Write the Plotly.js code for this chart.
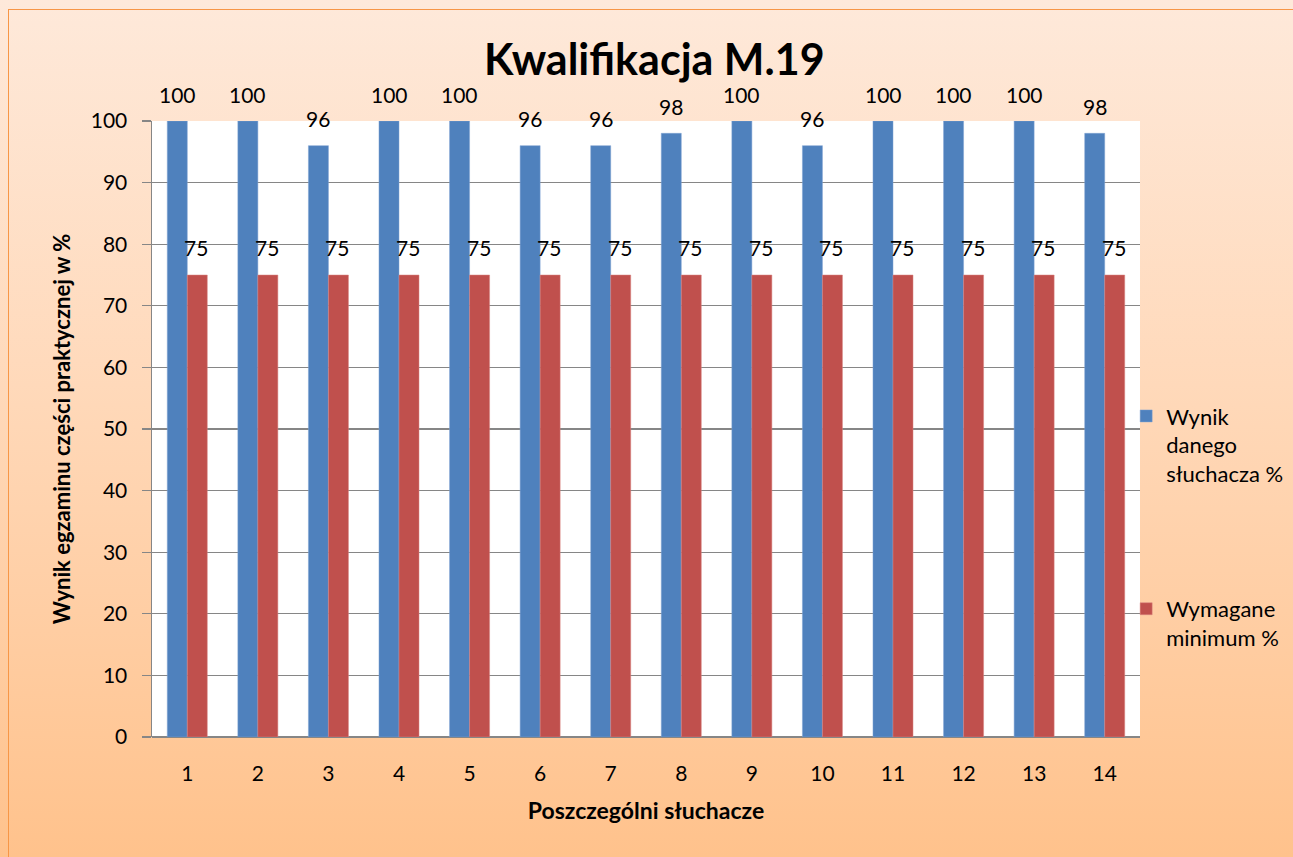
<!DOCTYPE html>
<html>
<head>
<meta charset="utf-8">
<script src="https://cdn.plot.ly/plotly-3.0.1.min.js"></script>
<style>
  html, body { margin: 0; padding: 0; }
  #wrap { position: relative; width: 1293px; height: 857px; overflow: hidden;
          background: linear-gradient(to bottom, #FEE9DA 0%, #FFD9BA 45%, #FFC28C 100%); }
  #frame { position: absolute; left: 8px; top: 9px; width: 1300px; height: 860px;
           border-left: 1px solid #F79646; border-top: 1px solid #F79646; }
  #chart { position: absolute; left: 0; top: 0; width: 1293px; height: 857px; }
</style>
</head>
<body>
<div id="wrap"><div id="frame"></div><div id="chart"></div></div>
<script>
const categories = [1,2,3,4,5,6,7,8,9,10,11,12,13,14];
const wynik = [100,100,96,100,100,96,96,98,100,96,100,100,100,98];
const minimum = [75,75,75,75,75,75,75,75,75,75,75,75,75,75];
const seriesNames = ["Wynik<br>danego<br>słuchacza %", "Wymagane<br>minimum %"];
const yTicks = [0,10,20,30,40,50,60,70,80,90,100];

const FONT = "Lato, 'Open Sans', sans-serif";

const traces = [
  { type: 'bar', x: categories, y: wynik, name: seriesNames[0],
    marker: { color: '#4F81BD', line: { color: '#7FA3D3', width: 0.5 } },
    legendgroup: 'a', hoverinfo: 'y' },
  { type: 'bar', x: categories, y: minimum, name: seriesNames[1],
    marker: { color: '#C0504D', line: { color: '#D88583', width: 0.5 } },
    legendgroup: 'b', hoverinfo: 'y' }
];

const annotations = [];
categories.forEach((c, i) => {
  annotations.push({ x: c, y: wynik[i], xref: 'x', yref: 'y', text: String(wynik[i]),
    showarrow: false, xshift: -10, yshift: 27, yanchor: 'middle',
    font: { family: FONT, size: 21, color: '#000' } });
  annotations.push({ x: c, y: minimum[i], xref: 'x', yref: 'y', text: String(minimum[i]),
    showarrow: false, xshift: 9, yshift: 28, yanchor: 'middle',
    font: { family: FONT, size: 21, color: '#000' } });
});

const layout = {
  width: 1293, height: 857,
  paper_bgcolor: 'rgba(0,0,0,0)',
  plot_bgcolor: '#FFFFFF',
  margin: { l: 152, r: 153, t: 121, b: 120, pad: 0, autoexpand: false },
  title: { text: '<b>Kwalifikacja M.19</b>', x: 0.506, xanchor: 'center', y: 0.93, yanchor: 'middle',
           font: { family: FONT, size: 43, color: '#000' } },
  barmode: 'group',
  bargap: 0.433,
  bargroupgap: 0,
  xaxis: {
    type: 'linear',
    range: [0.5, 14.5],
    tickvals: categories,
    ticktext: categories.map(String),
    showgrid: false, zeroline: false,
    showline: false,
    ticks: '', ticklen: 0,
    ticklabelstandoff: 22,
    tickfont: { family: FONT, size: 21, color: '#000' },
    title: { text: '<b>Poszczególni słuchacze</b>', standoff: 18,
             font: { family: FONT, size: 23, color: '#000' } }
  },
  yaxis: {
    range: [0, 100],
    tickvals: yTicks,
    ticktext: yTicks.map(String),
    showgrid: true, gridcolor: '#868686', gridwidth: 1.3,
    zeroline: true, zerolinecolor: '#868686', zerolinewidth: 2,
    showline: true, linecolor: '#868686', linewidth: 1.5,
    ticks: 'outside', ticklen: 9, tickcolor: '#868686', tickwidth: 1.3,
    ticklabelstandoff: 10,
    tickfont: { family: FONT, size: 21, color: '#000' },
    title: { text: '<b>Wynik egzaminu części praktycznej w %</b>', standoff: 14,
             font: { family: FONT, size: 22, color: '#000' } }
  },
  showlegend: true,
  legend: {
    x: 0.986, xanchor: 'left', y: 0.555, yanchor: 'top',
    bgcolor: 'rgba(0,0,0,0)',
    traceorder: 'grouped', tracegroupgap: 104,
    valign: 'top', itemwidth: 30,
    font: { family: FONT, size: 22, color: '#000' }
  },
  annotations: annotations
};

Plotly.newPlot('chart', traces, layout, { displayModeBar: false, staticPlot: true });
</script>
</body>
</html>
